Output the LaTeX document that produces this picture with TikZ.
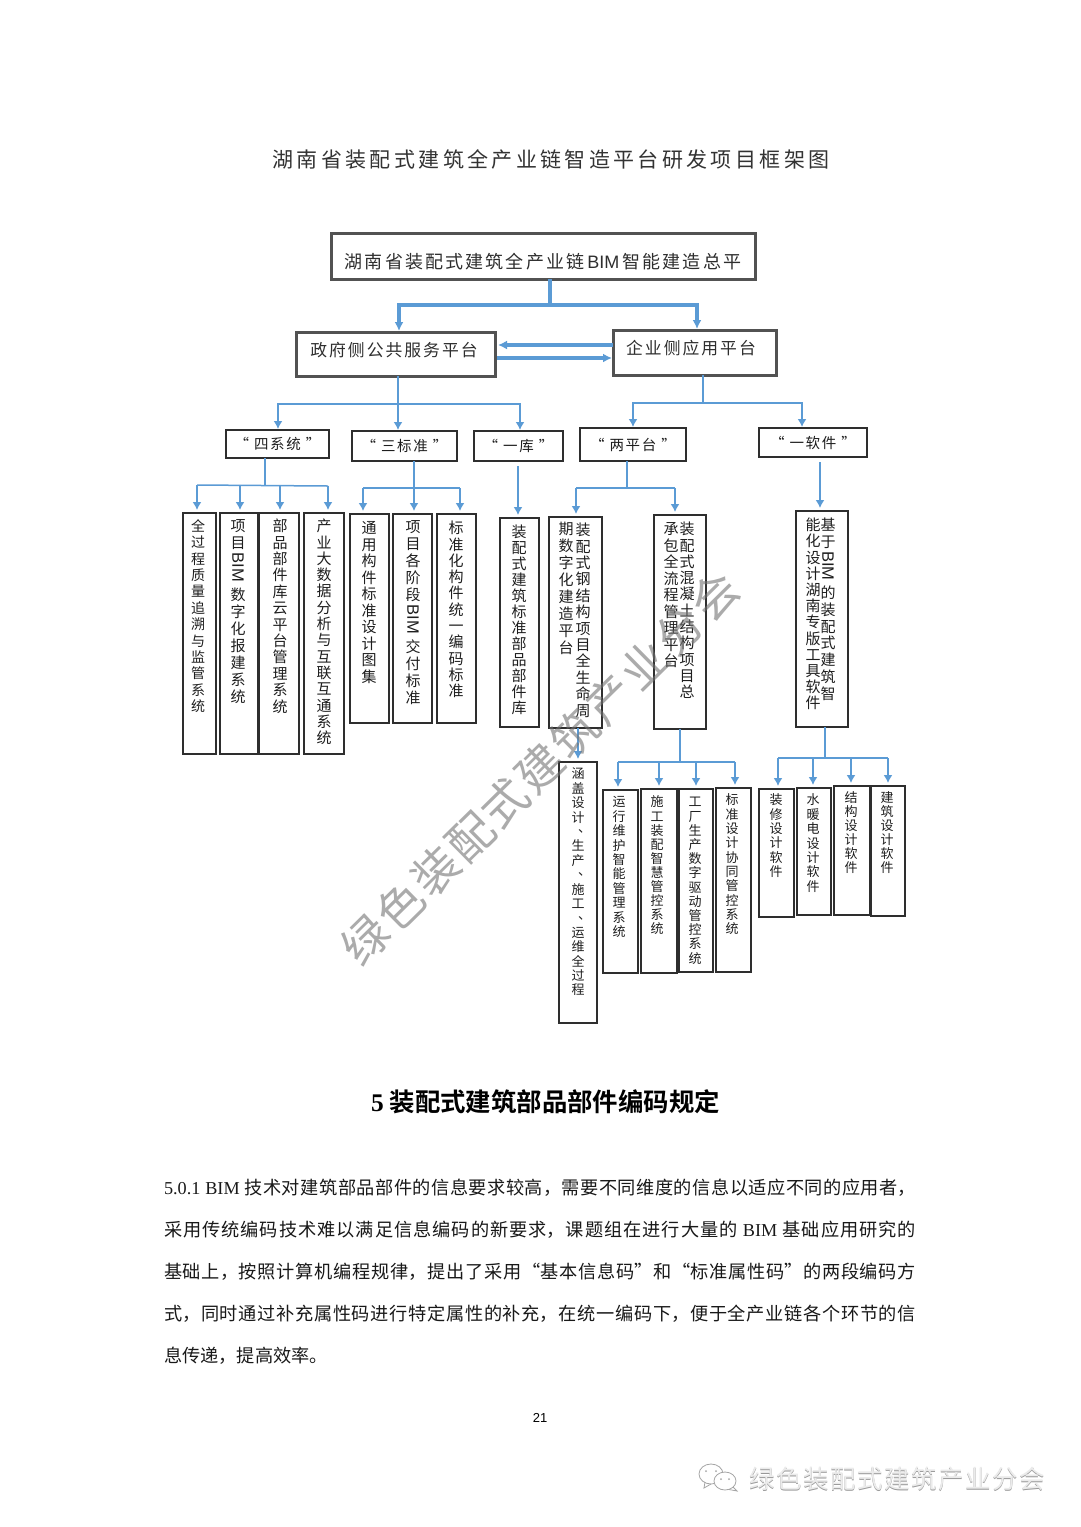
\documentclass[tikz,border=0pt]{standalone}
\usepackage{fontspec}
\usepackage{graphicx}
\usetikzlibrary{arrows.meta,calc}
\setmainfont{Noto Sans CJK SC}
\newfontfamily\lsT[LetterSpace=16]{Noto Sans CJK SC}
\newfontfamily\lsA[LetterSpace=12]{Noto Sans CJK SC}
\newfontfamily\lsW[LetterSpace=6]{Noto Sans CJK SC}
\newfontfamily\latS{Liberation Sans}
\newfontfamily\latR{Liberation Serif}
\newfontfamily\boldC[BoldFont={Noto Sans CJK SC Bold}]{Noto Sans CJK SC}
\definecolor{inkc}{HTML}{1E1E1E}
\definecolor{edgec}{HTML}{2E2E2E}
\definecolor{bluec}{HTML}{5B9BD5}
\makeatletter
\newcommand\VStack[2]{\vbox{\baselineskip=#1pt\relax\lineskiplimit=0pt\lineskip=5pt\relax
  \@tfor\vcitem:=#2\do{\hbox to 0pt{\hss\vrule width 0pt height .88em depth .12em\relax\vcitem\hss}}}}
\makeatother
\newcommand\BIMv{\raisebox{.85em}{\rotatebox{-90}{\latS\fontsize{16.5}{17}\selectfont BIM}}}
\newcommand\dunv{\rlap{\raisebox{.3em}{、}}}
\newcommand\bx[6][boxn]{\node[#1,minimum width={(#5-#3)*1pt},minimum height={(#6-#4)*1pt},anchor=north west] (#2) at (#3,#4) {};}
% name, x, y of first char centre, pitch, size, chars
\newcommand\vt[6]{\node[vtxt,font=\fontsize{#5}{#5}\selectfont,anchor=north] (#1) at (#2,#3-#5/2) {\VStack{#4}{#6}};}
\newcommand\hb[6]{\node[boxn,font=\lsA\fontsize{14.5}{16}\selectfont,text=inkc,minimum width={(#5-#3)*1pt},minimum height={(#6-#4)*1pt},anchor=north west] (#2) at (#3,#4) {#1};}
\tikzset{
  boxn/.style={draw=edgec,line width=1.3pt,fill=white,inner sep=0pt,outer sep=0pt},
  boxm/.style={draw=black!68,line width=3pt,fill=white,inner sep=0pt,outer sep=0pt},
  vtxt/.style={inner sep=0pt,outer sep=0pt,text=inkc},
  ltxt/.style={inner sep=0pt,outer sep=0pt},
  lnT/.style={draw=bluec,line width=3.2pt},
  arT/.style={draw=bluec,line width=3.2pt,-{Latex[length=9pt,width=9pt]},shorten >=1pt},
  lnM/.style={draw=bluec,line width=2.6pt},
  arM/.style={draw=bluec,line width=2.6pt,-{Latex[length=8pt,width=9pt]},shorten >=1pt},
  lnS/.style={draw=bluec,line width=1.5pt},
  arS/.style={draw=bluec,line width=1.5pt,-{Latex[length=8pt,width=9pt]},shorten >=3pt},
}
\begin{document}
\begin{tikzpicture}[x=1pt,y=-1pt]
\useasboundingbox[fill=white] (0,0) rectangle (1080,1527);
% title
\node[ltxt,text=black!80,font=\lsT\fontsize{21}{24}\selectfont] (title) at (551,159) {湖南省装配式建筑全产业链智造平台研发项目框架图};
% top boxes
\bx[boxm]{main}{331}{233}{755}{279}
\node[ltxt,text=black!82,font=\lsA\fontsize{18}{20}\selectfont] (maint) at (543,262) {湖南省装配式建筑全产业链\,{\latS BIM}\,智能建造总平};
\bx[boxm]{gov}{296}{332}{495}{376}
\node[ltxt,text=black!82,font=\lsA\fontsize{16.8}{20}\selectfont] (govt) at (394,350) {政府侧公共服务平台};
\bx[boxm]{ent}{613}{330}{776}{375}
\node[ltxt,text=black!82,font=\lsA\fontsize{16.8}{20}\selectfont] (entt) at (691,348) {企业侧应用平台};
% header boxes
\hb{“\kern5pt 四系统\kern5pt ”}{sx}{226}{430}{329}{458}
\hb{“\kern5pt 三标准\kern5pt ”}{bz}{352}{431}{457}{461}
\hb{“\kern5pt 一库\kern5pt ”}{yk}{474}{431}{563}{461}
\hb{“\kern5pt 两平台\kern5pt ”}{lp}{580}{428}{686}{461}
\hb{“\kern5pt 一软件\kern5pt ”}{rj}{759}{428}{867}{457}
% vertical boxes, first row
\bx{a1}{183}{513}{216}{754}
\bx{a2}{220}{513}{258}{754}
\bx{a3}{259}{513}{299}{754}
\bx{a4}{304}{513}{344}{754}
\bx{b1}{350}{514}{389}{723}
\bx{b2}{393}{514}{432}{723}
\bx{b3}{437}{514}{476}{723}
\bx{c1}{500}{518}{539}{727}
\bx{d1}{549}{517}{602}{728}
\bx{d2}{654}{515}{706}{729}
\bx{e1}{796}{511}{848}{727}
% second row
\bx{f0}{559}{762}{597}{1023}
\bx{f1}{603}{790}{638}{973}
\bx{f2}{641}{789}{677}{973}
\bx{f3}{679}{789}{713}{972}
\bx{f4}{716}{788}{751}{972}
\bx{g1}{759}{789}{794}{917}
\bx{g2}{797}{788}{831}{915}
\bx{g3}{834}{786}{870}{915}
\bx{g4}{871}{786}{905}{916}
% vertical texts
\vt{ta1}{198}{526}{16.4}{14}{全过程质量追溯与监管系统}
\vt{ta2}{238}{526}{17}{15}{项目\BIMv 数字化报建系统}
\vt{ta3}{280}{526}{16.4}{15}{部品部件库云平台管理系统}
\vt{ta4}{324}{526}{16.3}{15}{产业大数据分析与互联互通系统}
\vt{tb1}{369}{528}{16.5}{15}{通用构件标准设计图集}
\vt{tb2}{413}{527}{17}{15}{项目各阶段\BIMv 交付标准}
\vt{tb3}{456}{528}{16.3}{15}{标准化构件统一编码标准}
\vt{tc1}{519}{532}{16}{15}{装配式建筑标准部品部件库}
\vt{td1}{583}{530}{16.4}{15}{装配式钢结构项目全生命周}
\vt{td1b}{566}{529}{16.9}{15}{期数字化建造平台}
\vt{td2}{687}{529}{16.3}{15}{装配式混凝土结构项目总}
\vt{td2b}{671}{529}{16.5}{15}{承包全流程管理平台}
\vt{te1}{828}{525}{16.7}{15}{基于\BIMv 的装配式建筑智}
\vt{te1b}{813}{525}{16.2}{15}{能化设计湖南专版工具软件}
\vt{tf0}{578}{774}{14.4}{13}{涵盖设计\dunv 生产\dunv 施工\dunv 运维全过程}
\vt{tf1}{619}{802}{14.4}{13}{运行维护智能管理系统}
\vt{tf2}{657}{802}{14.1}{13}{施工装配智慧管控系统}
\vt{tf3}{695}{802}{14.2}{13}{工厂生产数字驱动管控系统}
\vt{tf4}{732}{800}{14.3}{13}{标准设计协同管控系统}
\vt{tg1}{776}{800}{14.3}{13}{装修设计软件}
\vt{tg2}{813}{800}{14.4}{13}{水暖电设计软件}
\vt{tg3}{851}{798}{14}{13}{结构设计软件}
\vt{tg4}{887}{798}{14}{13}{建筑设计软件}
% connectors: top level
\coordinate (j0) at (550,305);
\coordinate (j0l) at (399,305);
\coordinate (j0r) at (697,305);
\draw[lnT] (j0 |- main.south) -- (j0);
\draw[lnT,line cap=rect] (j0l) -- (j0r);
\draw[arT] (j0l) -- (j0l |- gov.north);
\draw[arT] (j0r) -- (j0r |- ent.north);
\coordinate (aL) at (497,345);
\coordinate (aR) at (497,358);
\draw[arT] (ent.west |- aL) -- (aL);
\draw[arT] (aR) -- (ent.west |- aR);
% second level
\coordinate (j1) at (398,404);
\coordinate (j1a) at (278,404);
\coordinate (j1c) at (520,404);
\draw[lnM] (j1 |- gov.south) -- (j1);
\draw[lnM,line cap=rect] (j1a) -- (j1c);
\draw[arM] (j1a) -- (j1a |- sx.north);
\draw[arM] (j1) -- (j1 |- bz.north);
\draw[arM] (j1c) -- (j1c |- yk.north);
\coordinate (j2) at (703,403);
\coordinate (j2a) at (633,403);
\coordinate (j2b) at (802,403);
\draw[lnM] (j2 |- ent.south) -- (j2);
\draw[lnM,line cap=rect] (j2a) -- (j2b);
\draw[arM] (j2a) -- (j2a |- lp.north);
\draw[arM] (j2b) -- (j2b |- rj.north);
% 四系统
\coordinate (k1) at (265,486);
\coordinate (k1a) at (197,485);
\coordinate (k1b) at (240,486);
\coordinate (k1c) at (280,486);
\coordinate (k1d) at (328,486);
\draw[lnS] (k1 |- sx.south) -- (k1);
\draw[lnS] (k1a) -- (k1d);
\draw[arS] (k1a) -- (k1a |- a1.north);
\draw[arS] (k1b) -- (k1b |- a2.north);
\draw[arS] (k1c) -- (k1c |- a3.north);
\draw[arS] (k1d) -- (k1d |- a4.north);
% 三标准
\coordinate (k2) at (414,488);
\coordinate (k2a) at (363,488);
\coordinate (k2c) at (460,488);
\draw[lnS] (k2a) -- (k2c);
\draw[arS] (k2 |- bz.south) -- (k2 |- b2.north);
\draw[arS] (k2a) -- (k2a |- b1.north);
\draw[arS] (k2c) -- (k2c |- b3.north);
% 一库
\coordinate (k3) at (518,466);
\draw[arS] (k3) -- (k3 |- c1.north);
% 两平台
\coordinate (k4) at (627,488);
\coordinate (k4a) at (576,488);
\coordinate (k4b) at (675,488);
\draw[lnS] (k4 |- lp.south) -- (k4);
\draw[lnS] (k4a) -- (k4b);
\draw[arS] (k4a) -- (k4a |- d1.north);
\draw[arS] (k4b) -- (k4b |- d2.north);
% 一软件
\coordinate (k5) at (820,462);
\draw[arS] (k5) -- (k5 |- e1.north);
% 钢结构 to 涵盖
\coordinate (k6) at (578,728);
\draw[arS] (k6) -- (k6 |- f0.north);
% 混凝土
\coordinate (k7) at (680,762);
\coordinate (k7a) at (618,762);
\coordinate (k7b) at (659,762);
\coordinate (k7c) at (696,762);
\coordinate (k7d) at (735,762);
\draw[lnS] (k7 |- d2.south) -- (k7);
\draw[lnS] (k7a) -- (k7d);
\draw[arS] (k7a) -- (k7a |- f1.north);
\draw[arS] (k7b) -- (k7b |- f2.north);
\draw[arS] (k7c) -- (k7c |- f3.north);
\draw[arS] (k7d) -- (k7d |- f4.north);
% 基于
\coordinate (k8) at (825,758);
\coordinate (k8a) at (778,758);
\coordinate (k8b) at (813,758);
\coordinate (k8c) at (851,758);
\coordinate (k8d) at (888,758);
\draw[lnS] (k8 |- e1.south) -- (k8);
\draw[lnS] (k8a) -- (k8d);
\draw[arS] (k8a) -- (k8a |- g1.north);
\draw[arS] (k8b) -- (k8b |- g2.north);
\draw[arS] (k8c) -- (k8c |- g3.north);
\draw[arS] (k8d) -- (k8d |- g4.north);
% heading
\node[ltxt,text=black,font=\fontsize{25.4}{28}\selectfont\bfseries] (sec) at (545.5,1102) {{\latR\bfseries 5} \boldC\bfseries 装配式建筑部品部件编码规定};
% body
\node[ltxt,anchor=north west,text width=752pt,align=justify,text=black!90,font=\fontsize{18.2}{42}\selectfont] (bodyt) at (164,1179)
 {\XeTeXlinebreaklocale "zh"\XeTeXlinebreakskip=0pt plus 3pt\relax\parindent=0pt\hbadness=10000\tolerance=9999
 {\latR 5.0.1 BIM }技术对建筑部品部件的信息要求较高，需要不同维度的信息以适应不同的应用者，\linebreak
 采用传统编码技术难以满足信息编码的新要求，课题组在进行大量的{\latR\ BIM }基础应用研究的\linebreak
 基础上，按照计算机编程规律，提出了采用“基本信息码”和“标准属性码”的两段编码方\linebreak
 式，同时通过补充属性码进行特定属性的补充，在统一编码下，便于全产业链各个环节的信\linebreak
 息传递，提高效率。};
\node[ltxt,text=black,font=\latS\fontsize{13}{15}\selectfont] (pg) at (540,1418) {21};
% diagonal watermark
\node[ltxt,rotate=44.6,text=black!55,opacity=.6,font=\fontsize{46}{50}\selectfont] (wm) at (540,768) {绿\kern3pt 色\kern3pt 装\kern3pt 配\kern3pt 式\kern3pt 建\kern3pt 筑\kern3pt 产\kern3pt 业\kern3pt 分\kern3pt 会};
% footer mark
\draw[black!35,line width=.8pt,fill=white] (711,1474) ellipse (12 and 10);
\draw[black!35,line width=.8pt] (705,1482) -- (704,1488) -- (711,1484);
\draw[black!35,line width=.8pt,fill=white] (725,1481) ellipse (11 and 9);
\draw[black!35,line width=.8pt] (733,1487) -- (737,1491) -- (729,1489.5);
\fill[black!35] (706,1471) circle (1) (716,1471) circle (1) (721,1479) circle (1) (729,1479) circle (1);
\node[ltxt,anchor=west,text=black!40,font=\lsW\fontsize{25.5}{28}\selectfont] (fm) at (749.6,1479.6) {绿色装配式建筑产业分会};
\node[ltxt,anchor=west,text=black!8,font=\lsW\fontsize{25.5}{28}\selectfont] (fm2) at (749,1479) {绿色装配式建筑产业分会};
\end{tikzpicture}
\end{document}
